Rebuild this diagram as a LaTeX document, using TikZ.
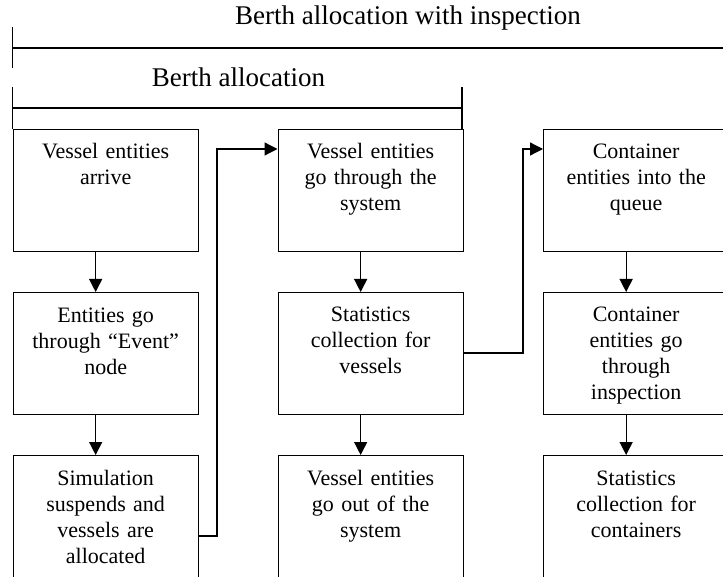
\documentclass[tikz,border=0pt]{standalone}
\usepackage{fontspec}
\setmainfont{Liberation Serif}
\usetikzlibrary{arrows.meta}
\begin{document}
\begin{tikzpicture}[x=1pt,y=-1pt,
  line width=1.3pt,
  stepbox/.style={draw, line width=1.3pt, minimum width=185pt, minimum height=122pt, inner sep=0pt, anchor=north west},
  boxtext/.style={anchor=base, text width=180pt, align=center, inner sep=0pt,
    font=\fontsize{22pt}{26pt}\selectfont},
  heading/.style={anchor=base, inner sep=0pt, font=\fontsize{27pt}{32pt}\selectfont},
  flow/.style={-{Triangle[length=13pt,width=13pt]}, line width=1.3pt}]
\useasboundingbox (0,0) rectangle (723,577);

% headings and brackets
\node[heading] (h1) at (408,25) {Berth allocation with inspection};
\node[heading] (h2) at (238.5,87) {Berth allocation};
\draw (12.5,27) -- (12.5,68);
\draw (12.5,48) -- (730,48);
\draw (12.5,87) -- (12.5,129);
\draw (12.5,108) -- (462,108);
\draw (462,87) -- (462,129);

% boxes
\node[stepbox] (b11) at (12.5,129) {};
\node[stepbox] (b21) at (12.5,292) {};
\node[stepbox] (b31) at (12.5,455) {};
\node[stepbox] (b12) at (277.5,129) {};
\node[stepbox] (b22) at (277.5,292) {};
\node[stepbox] (b32) at (277.5,455) {};
\node[stepbox] (b13) at (543,129) {};
\node[stepbox] (b23) at (543,292) {};
\node[stepbox] (b33) at (543,455) {};

% box texts (first baseline 30pt below the box top)
\node[boxtext] (t11) at ([yshift=-30pt]b11.north) {Vessel entities\\arrive};
\node[boxtext] (t21) at ([yshift=-31pt]b21.north) {Entities go\\through “Event”\\node};
\node[boxtext] (t31) at ([yshift=-30pt]b31.north) {Simulation\\suspends and\\vessels are\\allocated};
\node[boxtext] (t12) at ([yshift=-30pt]b12.north) {Vessel entities\\go through the\\system};
\node[boxtext] (t22) at ([yshift=-30pt]b22.north) {Statistics\\collection for\\vessels};
\node[boxtext] (t32) at ([yshift=-30pt]b32.north) {Vessel entities\\go out of the\\system};
\node[boxtext] (t13) at ([yshift=-30pt]b13.north) {Container\\entities into the\\queue};
\node[boxtext] (t23) at ([yshift=-30pt]b23.north) {Container\\entities go\\through\\inspection};
\node[boxtext] (t33) at ([yshift=-30pt]b33.north) {Statistics\\collection for\\containers};

% vertical flow inside each column
\draw[flow] ([xshift=-10pt]b11.south) -- ([xshift=-10pt]b21.north);
\draw[flow] ([xshift=-10pt]b21.south) -- ([xshift=-10pt]b31.north);
\draw[flow] ([xshift=-10pt]b12.south) -- ([xshift=-10pt]b22.north);
\draw[flow] ([xshift=-10pt]b22.south) -- ([xshift=-10pt]b32.north);
\draw[flow] ([xshift=-10pt]b13.south) -- ([xshift=-10pt]b23.north);
\draw[flow] ([xshift=-10pt]b23.south) -- ([xshift=-10pt]b33.north);

% links between columns
\coordinate (j1) at (217,536);
\coordinate (j2) at (217,149);
\draw[flow] (b31.east |- j1) -- (j1) -- (j2) -- (b12.west |- j2);
\coordinate (j3) at (523,353);
\coordinate (j4) at (523,149);
\draw[flow] (b22.east |- j3) -- (j3) -- (j4) -- (b13.west |- j4);
\end{tikzpicture}
\end{document}
